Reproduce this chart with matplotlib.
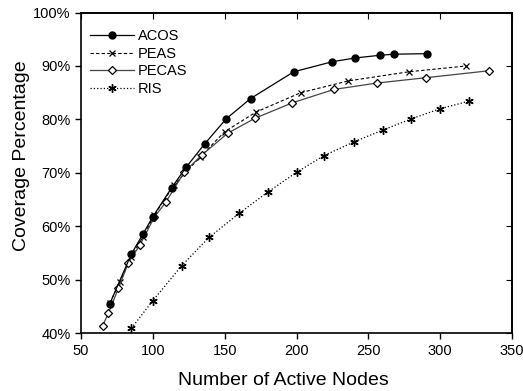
import matplotlib
matplotlib.use("Agg")
import matplotlib.pyplot as plt
from matplotlib.ticker import FuncFormatter

plt.rcParams['font.family'] = ['Liberation Sans', 'DejaVu Sans']

acos_x = [70, 85, 93, 100, 113, 123, 136, 151, 168, 198, 225, 241, 258, 268, 291]
acos_y = [45.5, 54.8, 58.5, 61.8, 67.2, 71.0, 75.4, 80.1, 83.9, 88.9, 90.8, 91.5, 92.0, 92.2, 92.3]

peas_x = [70, 77, 85, 93, 101, 115, 133, 150, 172, 203, 236, 278, 318]
peas_y = [45.6, 49.6, 54.3, 58.0, 62.1, 67.8, 73.0, 77.7, 81.4, 85.0, 87.2, 88.9, 90.0]

pecas_x = [65, 69, 76, 83, 91, 101, 109, 122, 134, 152, 171, 197, 226, 256, 290, 334]
pecas_y = [41.4, 43.7, 48.4, 53.2, 56.5, 61.7, 64.5, 70.2, 73.3, 77.4, 80.2, 83.1, 85.6, 86.8, 87.8, 89.1]

ris_x = [85, 100, 120, 139, 160, 180, 200, 219, 240, 260, 280, 300, 320]
ris_y = [40.9, 46.1, 52.6, 57.9, 62.4, 66.4, 70.1, 73.2, 75.8, 78.0, 80.1, 82.0, 83.4]

x_ticks = [50, 100, 150, 200, 250, 300, 350]
y_ticks = [40, 50, 60, 70, 80, 90, 100]

fig = plt.figure(figsize=(5.23, 3.91), dpi=100)
ax = fig.add_axes([0.155, 0.148, 0.824, 0.820])

ax.plot(acos_x, acos_y, '-', color='black', lw=0.9, marker='o', ms=5,
        mfc='black', mec='black', label='ACOS', zorder=4)
ax.plot(peas_x, peas_y, '--', color='black', lw=0.8, marker='x', ms=5,
        mew=0.9, dashes=(3, 2), label='PEAS', zorder=3)
ax.plot(pecas_x, pecas_y, '-', color='#444444', lw=0.9, marker='D', ms=4,
        mfc='white', mec='black', mew=0.9, label='PECAS', zorder=3)
ax.plot(ris_x, ris_y, ':', color='black', lw=0.9, marker=(6, 2, 0), ms=6,
        mew=1.0, label='RIS', zorder=2)

ax.set_xlim(50, 350)
ax.set_ylim(40, 100)
ax.set_xticks(x_ticks)
ax.set_yticks(y_ticks)
ax.yaxis.set_major_formatter(FuncFormatter(lambda v, p: f"{int(v)}%"))

ax.tick_params(axis='both', labelsize=10.5, length=4, width=1)
ax.tick_params(axis='x', direction='out', top=False)
ax.tick_params(axis='y', direction='out', right=False)
ax2 = ax.secondary_xaxis('top')
ax2.set_xticks(x_ticks)
ax2.tick_params(direction='in', length=4, labeltop=False)
ax3 = ax.secondary_yaxis('right')
ax3.set_yticks(y_ticks)
ax3.tick_params(direction='in', length=4, labelright=False)

for s in ax.spines.values():
    s.set_linewidth(1.2)
for a in (ax2, ax3):
    for s in a.spines.values():
        s.set_linewidth(1.2)

ax.set_xlabel('Number of Active Nodes', fontsize=14, labelpad=5)
ax.xaxis.set_label_coords(0.47, -0.121)
ax.set_ylabel('Coverage Percentage', fontsize=14, labelpad=4)
ax.yaxis.set_label_coords(-0.119, 0.552)

leg = ax.legend(loc='upper left', frameon=False, fontsize=10.5,
                handlelength=3.0, handletextpad=0.3, labelspacing=0.25,
                borderaxespad=0.3, bbox_to_anchor=(-0.003, 0.98))

fig.savefig('out.png', dpi=100)
